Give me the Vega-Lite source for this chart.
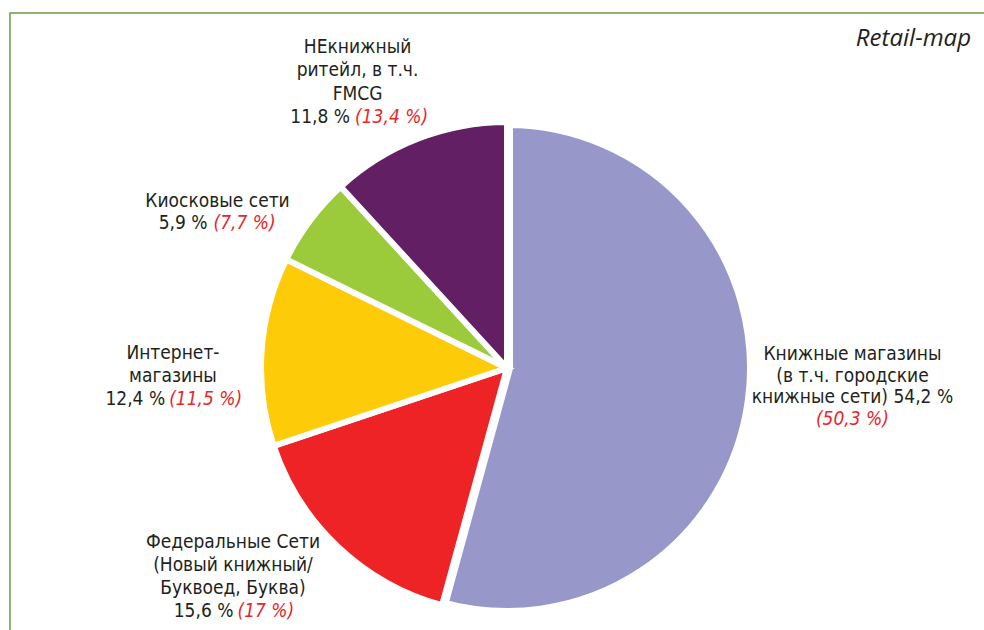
{
  "$schema": "https://vega.github.io/schema/vega-lite/v6.json",
  "width": 994,
  "height": 710,
  "autosize": {"type": "none"},
  "padding": {"left": 10, "top": 13, "right": -20, "bottom": -93},
  "background": "white",
  "view": {"stroke": "#6a9a48", "strokeWidth": 1.5},
  "title": {"text": "Retail-map", "anchor": "end", "frame": "group", "orient": "top", "offset": 0, "dx": -33, "dy": 84, "baseline": "alphabetic", "font": "Open Sans", "fontStyle": "italic", "fontWeight": "normal", "fontSize": 24, "color": "#231f20"},
  "config": {"text": {"font": "DejaVu Sans Condensed, Liberation Sans Narrow, sans-serif", "fontSize": 19, "color": "#231f20", "lineBreak": "\n"}},
  "data": {"values": [
    {"id": "k", "ord": 1, "value": 54.2, "top": "Книжные магазины\n(в т.ч. городские\nкнижные сети) 54,2 %", "base": "", "prev": "(50,3 %)"},
    {"id": "f", "ord": 2, "value": 15.6, "top": "Федеральные Сети\n(Новый книжный/\nБуквоед, Буква)", "base": "15,6 %", "prev": "(17 %)"},
    {"id": "i", "ord": 3, "value": 12.4, "top": "Интернет-\nмагазины", "base": "12,4 %", "prev": "(11,5 %)"},
    {"id": "ks", "ord": 4, "value": 5.9, "top": "Киосковые сети", "base": "5,9 %", "prev": "(7,7 %)"},
    {"id": "nk", "ord": 5, "value": 11.8, "top": "НЕкнижный\nритейл, в т.ч.\nFMCG", "base": "11,8 %", "prev": "(13,4 %)"}
  ]},
  "encoding": {
    "theta": {"field": "value", "type": "quantitative", "stack": true},
    "order": {"field": "ord", "type": "quantitative"},
    "detail": {"field": "id", "type": "nominal"}
  },
  "layer": [
    {
      "mark": {"type": "arc", "outerRadius": 246, "stroke": "white"},
      "encoding": {
        "color": {"field": "id", "type": "nominal", "legend": null,
          "scale": {"domain": ["k", "f", "i", "ks", "nk"], "range": ["#9797ca", "#ee2326", "#fecb08", "#9bcb3b", "#621f63"]}},
        "strokeWidth": {"condition": {"test": "datum.id === 'k'", "value": 12}, "value": 6}
      }
    },
    {"mark": {"type": "text", "radius": 330, "align": "center", "baseline": "alphabetic", "lineHeight": 23.3, "dx": -29.8, "dy": -7.5},
     "encoding": {"text": {"condition": {"test": "datum.id === 'nk'", "field": "top"}, "value": ""}}},
    {"mark": {"type": "text", "radius": 330, "align": "right", "baseline": "alphabetic", "dx": -37.3, "dy": 62.5},
     "encoding": {"text": {"condition": {"test": "datum.id === 'nk'", "field": "base"}, "value": ""}}},
    {"mark": {"type": "text", "radius": 330, "align": "left", "baseline": "alphabetic", "fontStyle": "italic", "dx": -32.3, "dy": 62.5},
     "encoding": {"text": {"condition": {"test": "datum.id === 'nk'", "field": "prev"}, "value": ""}, "color": {"value": "#e8262b"}}},

    {"mark": {"type": "text", "radius": 330, "align": "center", "baseline": "alphabetic", "lineHeight": 23, "dx": -25.4, "dy": 36.6},
     "encoding": {"text": {"condition": {"test": "datum.id === 'ks'", "field": "top"}, "value": ""}}},
    {"mark": {"type": "text", "radius": 330, "align": "right", "baseline": "alphabetic", "dx": -35.4, "dy": 58.4},
     "encoding": {"text": {"condition": {"test": "datum.id === 'ks'", "field": "base"}, "value": ""}}},
    {"mark": {"type": "text", "radius": 330, "align": "left", "baseline": "alphabetic", "fontStyle": "italic", "dx": -29.4, "dy": 58.4},
     "encoding": {"text": {"condition": {"test": "datum.id === 'ks'", "field": "prev"}, "value": ""}, "color": {"value": "#e8262b"}}},

    {"mark": {"type": "text", "radius": 330, "align": "center", "baseline": "alphabetic", "lineHeight": 23, "dx": -4.8, "dy": 13.3},
     "encoding": {"text": {"condition": {"test": "datum.id === 'i'", "field": "top"}, "value": ""}}},
    {"mark": {"type": "text", "radius": 330, "align": "right", "baseline": "alphabetic", "dx": -12.6, "dy": 59.3},
     "encoding": {"text": {"condition": {"test": "datum.id === 'i'", "field": "base"}, "value": ""}}},
    {"mark": {"type": "text", "radius": 330, "align": "left", "baseline": "alphabetic", "fontStyle": "italic", "dx": -8.6, "dy": 59.3},
     "encoding": {"text": {"condition": {"test": "datum.id === 'i'", "field": "prev"}, "value": ""}, "color": {"value": "#e8262b"}}},

    {"mark": {"type": "text", "radius": 330, "align": "center", "baseline": "alphabetic", "lineHeight": 23, "dx": -47.2, "dy": -59.7},
     "encoding": {"text": {"condition": {"test": "datum.id === 'f'", "field": "top"}, "value": ""}}},
    {"mark": {"type": "text", "radius": 330, "align": "right", "baseline": "alphabetic", "dx": -46.7, "dy": 9.3},
     "encoding": {"text": {"condition": {"test": "datum.id === 'f'", "field": "base"}, "value": ""}}},
    {"mark": {"type": "text", "radius": 330, "align": "left", "baseline": "alphabetic", "fontStyle": "italic", "dx": -42.7, "dy": 9.3},
     "encoding": {"text": {"condition": {"test": "datum.id === 'f'", "field": "prev"}, "value": ""}, "color": {"value": "#e8262b"}}},

    {"mark": {"type": "text", "radius": 330, "align": "center", "baseline": "alphabetic", "lineHeight": 21.7, "dx": 18.4, "dy": -52},
     "encoding": {"text": {"condition": {"test": "datum.id === 'k'", "field": "top"}, "value": ""}}},
    {"mark": {"type": "text", "radius": 330, "align": "center", "baseline": "alphabetic", "fontStyle": "italic", "dx": 18.4, "dy": 13},
     "encoding": {"text": {"condition": {"test": "datum.id === 'k'", "field": "prev"}, "value": ""}, "color": {"value": "#e8262b"}}}
  ]
}
